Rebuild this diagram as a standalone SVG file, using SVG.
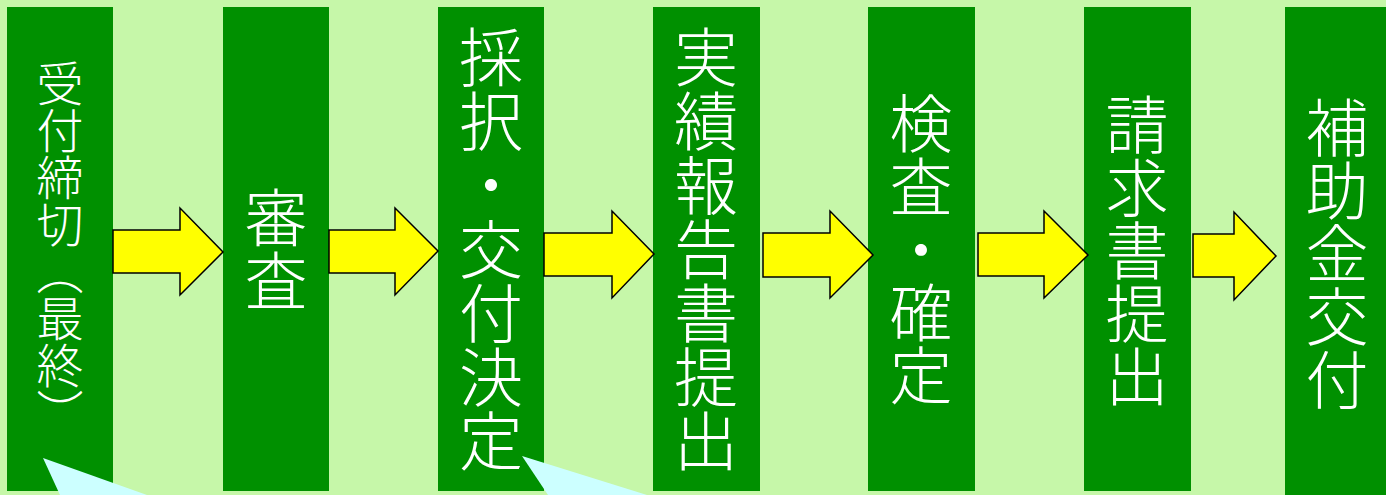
<svg xmlns="http://www.w3.org/2000/svg" width="1386" height="495" viewBox="0 0 1386 495">
<style>
.col{fill:#009000}
.lbl{fill:#ffffff;font-family:"Noto Sans CJK JP","Noto Sans CJK SC",sans-serif;font-weight:300;writing-mode:vertical-rl;text-anchor:middle}
.arr{fill:#ffff00;stroke:#000000;stroke-width:1.5;stroke-linejoin:miter}
.tail{fill:#ccffff}
</style>
<rect x="0" y="0" width="1386" height="495" fill="#c6f7a9"/>
<g id="n1"><rect class="col" x="7" y="7" width="106" height="484"/><text class="lbl" x="60" y="248" font-size="47">受付締切（最終）</text></g>
<g id="n2"><rect class="col" x="223" y="7" width="106" height="484"/><text class="lbl" x="276" y="249" font-size="63">審査</text></g>
<g id="n3"><rect class="col" x="438" y="7" width="106" height="484"/><text class="lbl" x="491" y="249" font-size="64">採択・交付決定</text></g>
<g id="n4"><rect class="col" x="653" y="7" width="107" height="484"/><text class="lbl" x="706" y="249" font-size="64">実績報告書提出</text></g>
<g id="n5"><rect class="col" x="868" y="7" width="107" height="484"/><text class="lbl" x="921" y="249" font-size="63">検査・確定</text></g>
<g id="n6"><rect class="col" x="1084" y="7" width="107" height="484"/><text class="lbl" x="1137" y="250" font-size="63">請求書提出</text></g>
<g id="n7"><rect class="col" x="1285" y="7" width="106" height="492"/><text class="lbl" x="1337" y="253" font-size="63">補助金交付</text></g>
<g id="connectors">
<polygon class="arr" points="113,230 180,230 180,208 223,252 180,295 180,273 113,273"/>
<polygon class="arr" points="329,230 395,230 395,208 438,251 395,295 395,273 329,273"/>
<polygon class="arr" points="544,233 612,233 612,211 654,254 612,298 612,276 544,276"/>
<polygon class="arr" points="763,233 830,233 830,211 873,255 830,298 830,277 763,277"/>
<polygon class="arr" points="978,233 1044,233 1044,211 1088,255 1044,298 1044,276 978,276"/>
<polygon class="arr" points="1193,234 1234,234 1234,212 1276,256 1234,300 1234,277 1193,277"/>
</g>
<polygon class="tail" points="43,458 60,495 147,495"/>
<polygon class="tail" points="522,456 548,495 647,495"/>
</svg>
